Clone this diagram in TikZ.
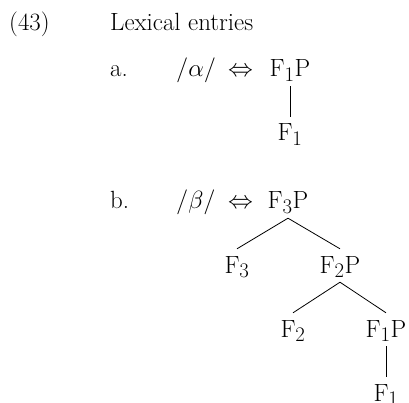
\documentclass[tikz,border=0pt]{standalone}
\begin{document}
\begin{tikzpicture}[x=1pt,y=-1pt,
  tx/.style={anchor=base west, inner sep=0pt, font=\fontsize{24.88}{30}\selectfont},
  lx/.style={anchor=base west, inner sep=0pt, font=\fontsize{24.88}{30}\selectfont},
  tn/.style={anchor=base, inner xsep=0pt, inner ysep=4pt, text height=20pt, text depth=5pt, font=\fontsize{24.88}{30}\selectfont},
  br/.style={line width=0.8pt}]
\useasboundingbox (0,0) rectangle (409,403);
\node[tx] (num) at (9,31) {(43)};
\node[tx] (title) at (110,31) {Lexical entries};
\node[tx] (la) at (110,77) {a.};
\node[tx] (lb) at (110,209) {b.};
% (a)
\node[lx] (fa) at (176,77) {$/\alpha/$};
\node[lx] (ea) at (228,77) {$\Leftrightarrow$};
\node[tn] (a1) at (290,77) {$\mathrm{F_1P}$};
\node[tn] (a2) at (290,141) {$\mathrm{F_1}$};
\draw[br] (a1.south) -- (a2.north);
% (b)
\node[lx] (fb) at (176,209) {$/\beta/$};
\node[lx] (eb) at (228,209) {$\Leftrightarrow$};
\node[tn] (b1) at (288,209) {$\mathrm{F_3P}$};
\node[tn] (b2) at (237,273) {$\mathrm{F_3}$};
\node[tn] (b3) at (340,273) {$\mathrm{F_2P}$};
\node[tn] (b4) at (293,337) {$\mathrm{F_2}$};
\node[tn] (b5) at (386,337) {$\mathrm{F_1P}$};
\node[tn] (b6) at (386,401) {$\mathrm{F_1}$};
\draw[br] (b1.south) -- (b2.north);
\draw[br] (b1.south) -- (b3.north);
\draw[br] (b3.south) -- (b4.north);
\draw[br] (b3.south) -- (b5.north);
\draw[br] (b5.south) -- (b6.north);
\end{tikzpicture}
\end{document}
